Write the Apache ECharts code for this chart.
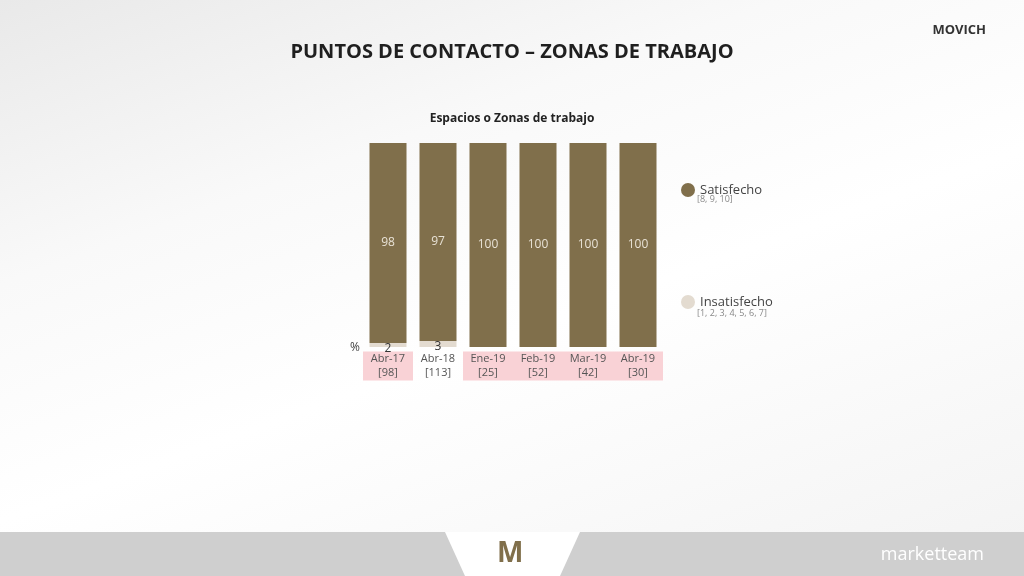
<!DOCTYPE html>
<html><head><meta charset="utf-8">
<script src="https://cdn.jsdelivr.net/npm/echarts@6/dist/echarts.min.js"></script>
<style>html,body{margin:0;padding:0;}#c{width:1024px;height:576px;background:linear-gradient(160deg,#e9e9e9 0%,#f9f9f9 30%,#ffffff 55%,#f3f3f3 100%);}</style>
</head><body><div id="c"></div>
<script>
const categories = ['Abr-17','Abr-18','Ene-19','Feb-19','Mar-19','Abr-19'];
const bases = ['[98]','[113]','[25]','[52]','[42]','[30]'];
const highlighted = [true,false,true,true,true,true];
const satisfecho = [98,97,100,100,100,100];
const insatisfecho = [2,3,0,0,0,0];

const chart = echarts.init(document.getElementById('c'));
const font = "'Open Sans', Lato, sans-serif";
chart.setOption({
  animation:false,
  textStyle:{fontFamily:font},
  grid:{left:363,width:300,top:143,height:204},
  xAxis:{type:'category',data:categories,axisLine:{show:false},axisTick:{show:false},
    axisLabel:{interval:0,margin:5,formatter:(v,i)=>'{'+(highlighted[i]?'p':'n')+'|'+v+'\n'+bases[i]+'}',
      rich:{p:{backgroundColor:'#f9d2d6',width:50,align:'center',lineHeight:14,padding:[2,0,2,0],fontSize:11,color:'#555',fontFamily:font},
            n:{width:50,align:'center',lineHeight:14,padding:[2,0,2,0],fontSize:11,color:'#555',fontFamily:font}}}},
  yAxis:{type:'value',min:0,max:100,show:false},
  legend:{orient:'vertical',left:676,top:178,itemGap:98,icon:'circle',itemWidth:14,itemHeight:14,
    data:['Satisfecho','Insatisfecho'],textStyle:{fontSize:13,color:'#444',fontFamily:font}},
  series:[
    {name:'Insatisfecho',type:'bar',stack:'a',barWidth:37,data:insatisfecho,itemStyle:{color:'#e3dbd0'},
      label:{show:true,position:'insideTop',offset:[0,-5],fontSize:12,color:'#333',formatter:p=>p.value?p.value:''}},
    {name:'Satisfecho',type:'bar',stack:'a',barWidth:37,data:satisfecho,itemStyle:{color:'#806f4b'},
      label:{show:true,position:'inside',fontSize:12,color:'#e8e2d6'}}
  ],
  graphic:[
    {type:'text',left:'center',top:42,style:{text:'PUNTOS DE CONTACTO – ZONAS DE TRABAJO',font:'bold 20px '+font,fill:'#1f1f1f'}},
    {type:'text',left:'center',top:113,style:{text:'Espacios o Zonas de trabajo',font:'bold 12px '+font,fill:'#222'}},
    {type:'text',left:350,top:342,style:{text:'%',font:'12px '+font,fill:'#444'}},
    {type:'text',left:697,top:195,style:{text:'[8, 9, 10]',font:'9px '+font,fill:'#888'}},
    {type:'text',left:697,top:309,style:{text:'[1, 2, 3, 4, 5, 6, 7]',font:'9px '+font,fill:'#888'}},
    {type:'text',right:38,top:24,style:{text:'MOVICH',font:'bold 13px '+font,fill:'#333'}},
    {type:'rect',left:0,top:532,shape:{width:1024,height:44},style:{fill:'#cfcfcf'}},
    {type:'polygon',shape:{points:[[445,532],[580,532],[560,576],[465,576]]},style:{fill:'#ffffff'}},
    {type:'text',left:497,top:540,style:{text:'M',font:'bold 28px '+font,fill:'#806f4b'}},
    {type:'text',right:40,top:546,style:{text:'marketteam',font:'18px '+font,fill:'#ffffff'}}
  ]
});
</script></body></html>
